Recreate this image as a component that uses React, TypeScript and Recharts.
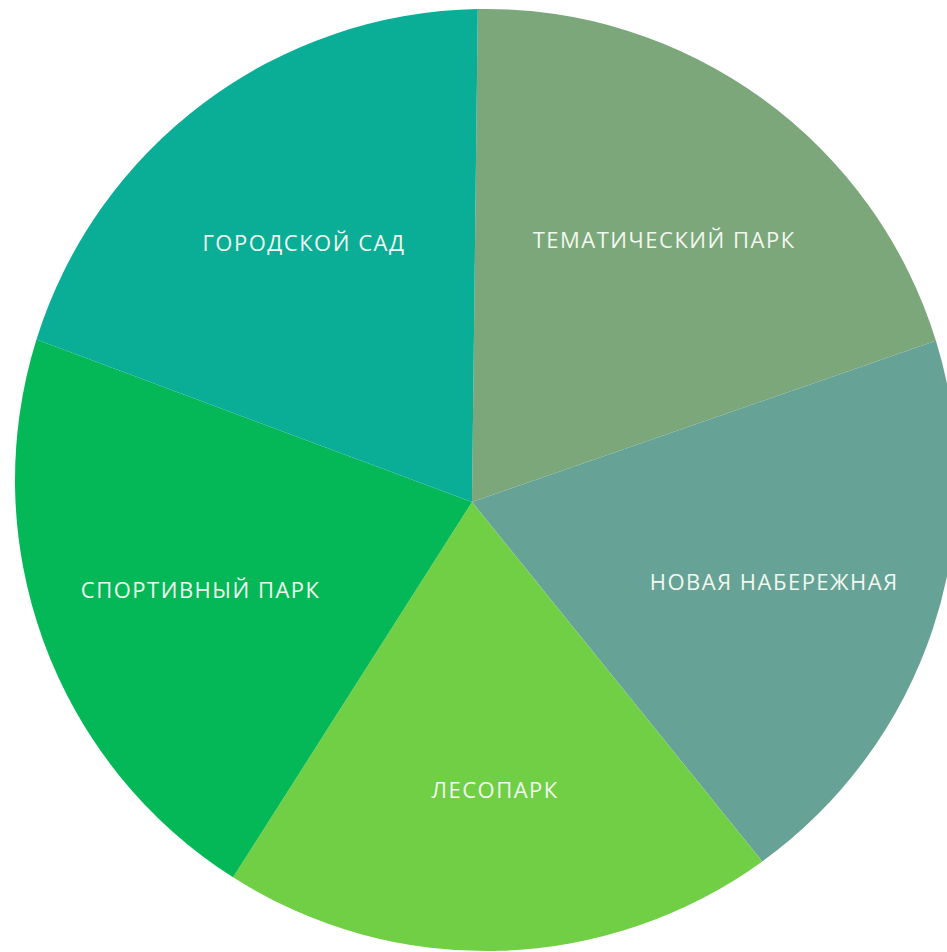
import React from "react";
import { Pie, PieChart } from "recharts";

const categories = [
  "ТЕМАТИЧЕСКИЙ ПАРК",
  "НОВАЯ НАБЕРЕЖНАЯ",
  "ЛЕСОПАРК",
  "СПОРТИВНЫЙ ПАРК",
  "ГОРОДСКОЙ САД",
];
const shares = [20.5, 19.8, 19.0, 20.8, 19.9];
const colors = ["#7ba77b", "#66a396", "#70cf45", "#04b857", "#0aad96"];

const data = categories.map((name, i) => ({ name, value: shares[i], fill: colors[i] }));

const RAD = Math.PI / 180;
// the slices meet slightly off the circle's centre in the original
const JX = -14;
const JY = 22;

const polar = (cx: number, cy: number, r: number, a: number) => [
  cx + r * Math.cos(-a * RAD),
  cy + r * Math.sin(-a * RAD),
];

const OffsetSector = (props: any) => {
  const { cx, cy, outerRadius, startAngle, endAngle, fill } = props;
  const [x1, y1] = polar(cx, cy, outerRadius, startAngle);
  const [x2, y2] = polar(cx, cy, outerRadius, endAngle);
  const large = Math.abs(startAngle - endAngle) > 180 ? 1 : 0;
  const sweep = startAngle > endAngle ? 1 : 0;
  const d = `M${cx + JX},${cy + JY} L${x1},${y1} A${outerRadius},${outerRadius} 0 ${large} ${sweep} ${x2},${y2} Z`;
  return <path d={d} fill={fill} stroke="none" />;
};

const renderLabel = (props: any) => {
  const { cx, cy, midAngle, outerRadius, name } = props;
  const [x, y] = polar(cx, cy, outerRadius * 0.645, midAngle);
  return (
    <text
      x={x}
      y={y + 5}
      fill="#f1f8ef"
      textAnchor="middle"
      dominantBaseline="central"
      fontFamily="'Open Sans', sans-serif"
      fontSize={22}
      letterSpacing={1.5}
    >
      {name}
    </text>
  );
};

export default function App() {
  return (
    <div style={{ position: "absolute", left: 0, top: 0 }}>
      <PieChart width={947} height={952} margin={{ top: 0, right: 0, bottom: 0, left: 0 }}>
        <Pie
          data={data}
          dataKey="value"
          nameKey="name"
          cx={486}
          cy={480}
          outerRadius={471}
          startAngle={91}
          endAngle={-269}
          stroke="none"
          shape={OffsetSector}
          label={renderLabel}
          labelLine={false}
          isAnimationActive={false}
        />
      </PieChart>
    </div>
  );
}
